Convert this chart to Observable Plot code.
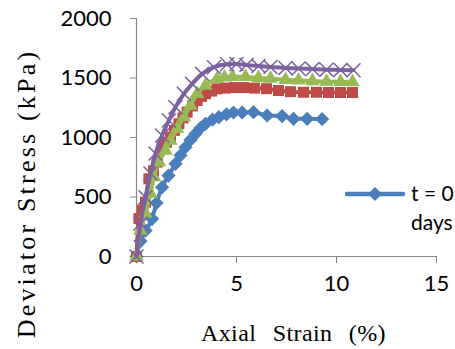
<!DOCTYPE html>
<html><head><meta charset="utf-8">
<script src="https://cdn.jsdelivr.net/npm/d3@7"></script>
<script src="https://cdn.jsdelivr.net/npm/@observablehq/plot@0.6"></script>
<style>
html,body{margin:0;padding:0;background:#fff;overflow:hidden;width:455px;height:349px;}
#wrap{position:relative;width:455px;height:349px;}
#legend{position:absolute;left:345px;top:178px;font-family:Lato,sans-serif;font-size:21px;line-height:29px;color:#000;white-space:nowrap;display:flex;}
#legend svg{display:block;margin-top:3px;}
</style></head><body><div id="wrap"></div>
<script>
// Tick labels
const xTicks = [0, 5, 10, 15];
const yTicks = [0, 500, 1000, 1500, 2000];
const xLabel = "Axial Strain (%)";
const yLabel = "Deviator Stress (kPa)";
const legendLabel = "t = 0 days";

// Series (strain %, deviator stress kPa)
const blueX = [0, 0.2, 0.45, 0.78, 1.0, 1.28, 1.6, 1.95, 2.2, 2.45, 2.7, 2.95, 3.2, 3.45, 3.8, 4.12, 4.5, 4.85, 5.28, 5.85, 6.53, 7.28, 7.85, 8.53, 9.28];
const blueY = [0, 130, 218, 317, 450, 582, 680, 779, 850, 918, 980, 1031, 1080, 1115, 1150, 1171, 1195, 1210, 1210, 1213, 1185, 1180, 1157, 1157, 1155];

const redX = [0, 0.12, 0.3, 0.45, 0.62, 0.85, 1.03, 1.28, 1.5, 1.7, 1.9, 2.12, 2.33, 2.53, 2.8, 3.03, 3.25, 3.45, 3.75, 4.03, 4.45, 4.9, 5.35, 5.9, 6.5, 7.1, 7.7, 8.35, 9.0, 9.6, 10.2, 10.8];
const redY = [0, 319, 390, 457, 653, 720, 793, 919, 960, 1003, 1060, 1115, 1165, 1213, 1265, 1311, 1345, 1367, 1390, 1409, 1415, 1420, 1420, 1415, 1410, 1395, 1385, 1380, 1380, 1378, 1378, 1378];

const greenX = [0, 0.2, 0.45, 0.7, 0.87, 1.12, 1.45, 1.7, 2.03, 2.37, 2.7, 3.03, 3.45, 4.03, 4.4, 4.8, 5.45, 6.1, 6.7, 7.45, 8.1, 8.8, 9.5, 10.2, 10.8];
const greenY = [0, 218, 361, 529, 667, 793, 891, 975, 1073, 1171, 1269, 1367, 1437, 1493, 1505, 1510, 1510, 1500, 1495, 1485, 1480, 1475, 1470, 1468, 1465];

const purpleX = [0, 0.2, 0.45, 0.7, 0.95, 1.28, 1.62, 1.95, 2.37, 2.78, 3.28, 3.87, 4.53, 5.0, 5.5, 6.1, 6.7, 7.45, 8.1, 8.8, 9.5, 10.2, 10.85];
const purpleY = [0, 277, 498, 697, 865, 1017, 1143, 1255, 1367, 1451, 1535, 1591, 1615, 1618, 1610, 1600, 1592, 1585, 1580, 1575, 1570, 1568, 1565];

const colors = {blue: "#4A7EBB", red: "#BE4B48", green: "#98B954", purple: "#7D60A0"};

const toRows = (xs, ys) => xs.map((x, i) => ({x, y: ys[i]}));
const blue = toRows(blueX, blueY);
const red = toRows(redX, redY);
const green = toRows(greenX, greenY);
const purple = toRows(purpleX, purpleY);

const axisColor = "#868686";
const serif = "'Liberation Serif', 'Times New Roman', serif";

const chart = Plot.plot({
  width: 455,
  height: 349,
  marginLeft: 136,
  marginRight: 19,
  marginTop: 18,
  marginBottom: 93,
  style: {fontFamily: "Lato, sans-serif", fontSize: "22px", color: "#000", background: "#fff", overflow: "visible"},
  x: {domain: [0, 15]},
  y: {domain: [0, 2000]},
  marks: [
    Plot.ruleY([0], {stroke: axisColor, strokeWidth: 1.2}),
    Plot.ruleX([0], {stroke: axisColor, strokeWidth: 1.2}),
    Plot.axisX({ticks: xTicks, tickSize: 7, tickPadding: 12, stroke: axisColor, label: null, fontSize: 22, fontFamily: "Lato, sans-serif"}),
    Plot.axisY({ticks: yTicks, tickSize: 6, tickPadding: 19, stroke: axisColor, label: null, fontSize: 22, fontFamily: "Lato, sans-serif", tickFormat: d => String(d)}),
    Plot.line(blue, {x: "x", y: "y", stroke: colors.blue, strokeWidth: 4, curve: "monotone-x"}),
    Plot.dot(blue, {x: "x", y: "y", symbol: "diamond2", r: 6.4, fill: colors.blue}),
    Plot.line(red, {x: "x", y: "y", stroke: colors.red, strokeWidth: 4, curve: "monotone-x"}),
    Plot.dot(red, {x: "x", y: "y", symbol: "square", r: 6.2, fill: colors.red}),
    Plot.line(green, {x: "x", y: "y", stroke: colors.green, strokeWidth: 4, curve: "monotone-x"}),
    Plot.dot(green, {x: "x", y: "y", symbol: "triangle", r: 5.4, fill: colors.green}),
    Plot.dot(purple, {x: "x", y: "y", symbol: "times", r: 6.4, stroke: colors.purple, strokeWidth: 1.5}),
    Plot.line(purple, {x: "x", y: "y", stroke: colors.purple, strokeWidth: 4, curve: "monotone-x"}),
    Plot.text([yLabel], {frameAnchor: "left", textAnchor: "middle", lineAnchor: "middle", rotate: -90, dx: -110, dy: 56, fontFamily: serif, fontSize: 26, fill: "#000"}),
    Plot.text([xLabel], {frameAnchor: "bottom", textAnchor: "middle", lineAnchor: "middle", dx: 7, dy: 77, fontFamily: serif, fontSize: 24, fill: "#000"})
  ]
});
document.getElementById("wrap").appendChild(chart);

// widen the serif titles' spacing as in the reference
d3.select(chart).selectAll("text").filter(function() { return this.textContent === yLabel; })
  .style("letter-spacing", "3.2px");
d3.select(chart).selectAll("text").filter(function() { return this.textContent === xLabel; })
  .style("word-spacing", "10px").style("letter-spacing", "0.4px");

// legend (clipped by the window, as in the reference)
const leg = d3.select("#wrap").append("div").attr("id", "legend");
const sw = leg.append("svg").attr("width", 62).attr("height", 24);
sw.append("line").attr("x1", 2).attr("x2", 58).attr("y1", 13).attr("y2", 13)
  .attr("stroke", colors.blue).attr("stroke-width", 4.5).attr("stroke-linecap", "round");
sw.append("path").attr("d", d3.symbol(d3.symbolDiamond2, Math.PI * 6.4 * 6.4)())
  .attr("transform", "translate(30,13)").attr("fill", colors.blue);
const parts = legendLabel.split(" days");
leg.append("div").style("padding-left", "4px").html(parts[0] + "<br>days");
</script>
</body></html>
